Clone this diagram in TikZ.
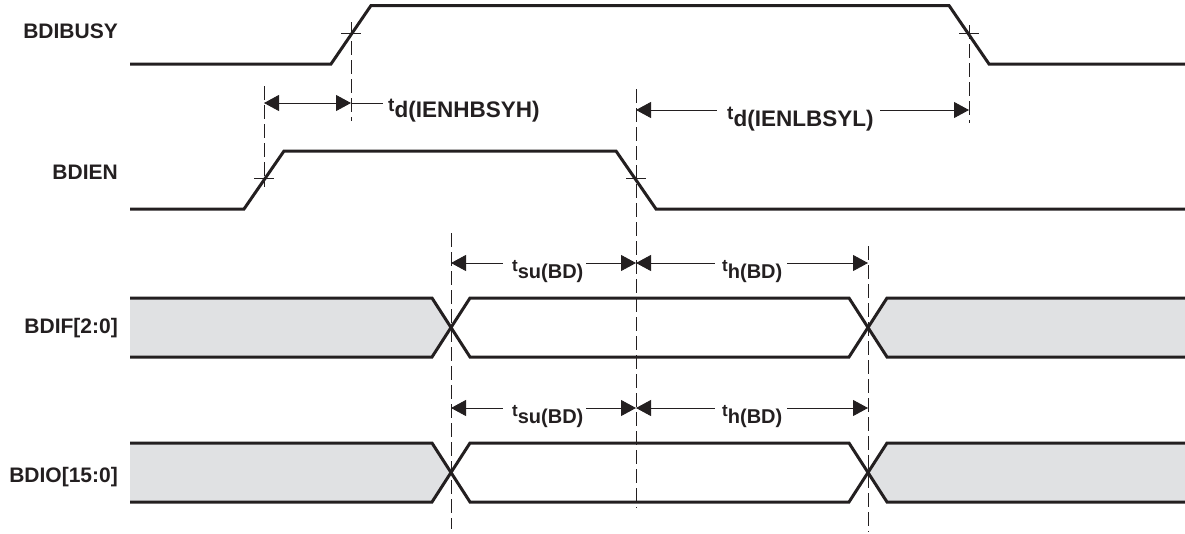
\documentclass[tikz,border=0pt]{standalone}
\usepackage{fontspec}
\setmainfont{Liberation Sans}
\usetikzlibrary{arrows.meta}
\definecolor{ink}{RGB}{35,31,32}
\definecolor{busfill}{RGB}{224,225,227}
\newcommand\tmlab[4]{{\fontsize{#1}{#1}\selectfont\bfseries t}\raisebox{-#3pt}{\fontsize{#2}{#2}\selectfont\bfseries #4}}
\begin{document}
\begin{tikzpicture}[x=1pt,y=-1pt,
  sig/.style={draw=ink,line width=3pt,line join=miter,line cap=butt},
  guide/.style={draw=ink,line width=0.9pt,dash pattern=on 14pt off 5pt},
  tickmark/.style={draw=ink,line width=0.9pt},
  dim/.style={draw=ink,line width=0.9pt},
  tipL/.style={{Triangle[length=15pt,width=16pt]}-},
  tipR/.style={-{Triangle[length=15pt,width=16pt]}},
  tipLR/.style={{Triangle[length=15pt,width=16pt]}-{Triangle[length=15pt,width=16pt]}},
  lbl/.style={anchor=base east,inner sep=0pt,text=ink,font=\fontsize{21}{24}\selectfont\bfseries},
  tlbl/.style={anchor=base west,inner sep=0pt,text=ink}]
\useasboundingbox (0,0) rectangle (1185,533);

% ---------- signal labels
\node[lbl] (lbusy) at (118,38.3) {BDIBUSY};
\node[lbl] (len)   at (118,179) {BDIEN};
\node[lbl] (lif)   at (118,333) {BDIF[2:0]};
\node[lbl] (lio)   at (118,482) {BDIO[15:0]};

% ---------- BDIBUSY
\draw[sig] (130,64) -- (331,64) -- (371,5.5) -- (949,5.5) -- (989,64) -- (1185,64);
\draw[tickmark] (341,33) -- (361,33);
\draw[tickmark] (959,33) -- (979,33);

% ---------- BDIEN
\draw[sig] (130,209) -- (244,209) -- (284,151) -- (616,151) -- (656,209) -- (1185,209);
\draw[tickmark] (254,178) -- (274,178);
\draw[tickmark] (626,178) -- (646,178);

% ---------- buses
\foreach \yt/\yb in {298/357, 443/502}{
  \pgfmathsetmacro\ym{(\yt+\yb)/2}
  \fill[busfill] (130,\yt) -- (432,\yt) -- (451,\ym) -- (432,\yb) -- (130,\yb) -- cycle;
  \fill[busfill] (1185,\yt) -- (887,\yt) -- (868,\ym) -- (887,\yb) -- (1185,\yb) -- cycle;
  \draw[sig] (130,\yt) -- (432,\yt) -- (470,\yb) -- (849,\yb) -- (887,\yt) -- (1185,\yt);
  \draw[sig] (130,\yb) -- (432,\yb) -- (470,\yt) -- (849,\yt) -- (887,\yb) -- (1185,\yb);
}

% ---------- dashed guide lines
\coordinate (g1t) at (351,22);  \coordinate (g1b) at (351,121);
\coordinate (g2t) at (969,25);  \coordinate (g2b) at (969,123);
\coordinate (g3t) at (264,86);  \coordinate (g3b) at (264,187);
\coordinate (g4t) at (636,89);  \coordinate (g4b) at (636,508);
\coordinate (g5t) at (451,233); \coordinate (g5b) at (451,529);
\coordinate (g6t) at (868,246); \coordinate (g6b) at (868,532);
\foreach \g in {1,...,6}{\draw[guide] (g\g t) -- (g\g b);}

% ---------- row A : td(IENHBSYH)
\coordinate (a1) at (264,103); \coordinate (a2) at (351,103); \coordinate (a3) at (383,103);
\draw[dim,tipLR] (a1) -- (a2);
\draw[dim] (a2) -- (a3);
\node[tlbl] (tA) at (388,111) {\tmlab{19}{22.5}{6}{d(IENHBSYH)}};

% ---------- row B : td(IENLBSYL)
\coordinate (b1) at (636,110); \coordinate (b2) at (717,110);
\coordinate (b3) at (880,110); \coordinate (b4) at (969,110);
\draw[dim,tipL] (b1) -- (b2);
\draw[dim,tipR] (b3) -- (b4);
\node[tlbl] (tB) at (727,119) {\tmlab{19}{22.5}{7}{d(IENLBSYL)}};

% ---------- rows C, D : tsu(BD), th(BD)
\foreach \yy/\nm in {263/C, 408/D}{
  \coordinate (\nm1) at (451,\yy); \coordinate (\nm2) at (503,\yy);
  \coordinate (\nm3) at (586,\yy); \coordinate (\nm4) at (636,\yy);
  \coordinate (\nm5) at (715,\yy); \coordinate (\nm6) at (787,\yy);
  \coordinate (\nm7) at (868,\yy);
  \draw[dim,tipL] (\nm1) -- (\nm2);
  \draw[dim,tipR] (\nm3) -- (\nm4);
  \draw[dim,tipL] (\nm4) -- (\nm5);
  \draw[dim,tipR] (\nm6) -- (\nm7);
  \node[tlbl] (tsu\nm) at (512,\yy+8) {\tmlab{17}{20}{7}{su(BD)}};
  \node[tlbl] (th\nm)  at (722,\yy+8) {\tmlab{17}{20}{7}{h(BD)}};
}
\end{tikzpicture}
\end{document}
